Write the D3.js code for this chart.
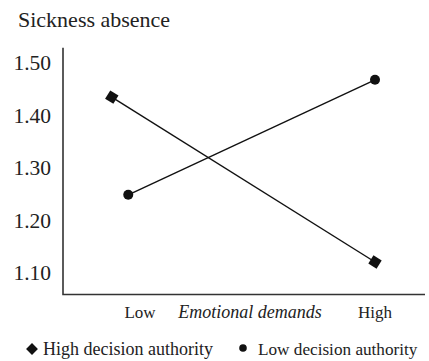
<!DOCTYPE html>
<html>
<head>
<meta charset="utf-8">
<script src="https://cdn.jsdelivr.net/npm/d3@7"></script>
<style>
  body { margin: 0; background: #fff; }
  text { font-family: "Liberation Serif", "Times New Roman", serif; fill: #222; }
</style>
</head>
<body>
<script>
// values
var levels = ["Low", "High"];
var yTicks = [1.10, 1.20, 1.30, 1.40, 1.50];
var highAuthX = [-0.12, 1];      // marker positions along emotional demands (0 = Low, 1 = High)
var highAuth = [1.435, 1.121];
var lowAuthX = [-0.05, 1];
var lowAuth = [1.249, 1.468];
var seriesNames = ["High decision authority", "Low decision authority"];

var width = 429, height = 361;

var svg = d3.select("body").append("svg")
  .attr("width", width)
  .attr("height", height);

var x = d3.scaleLinear().domain([0, 1]).range([140, 375]);
var y = d3.scaleLinear().domain([1.10, 1.50]).range([273, 63]);
var axisX = 63, axisRight = 425;
var yTop = y(1.529), yBottom = y(1.059);

// title
svg.append("text")
  .attr("x", 18).attr("y", 27)
  .style("font-size", "22px")
  .text("Sickness absence");

// y tick labels, no tick marks
var yAxis = d3.axisLeft(y).tickValues(yTicks).tickFormat(d3.format(".2f")).tickSize(0).tickPadding(12);
var gy = svg.append("g").attr("transform", "translate(" + axisX + ",0)").call(yAxis);
gy.select(".domain").remove();
gy.selectAll("text").style("font-size", "21.5px").style("font-family", "Liberation Serif").attr("fill", "#222");

// axis lines
svg.append("path")
  .attr("d", "M" + axisX + "," + yTop + "V" + yBottom + "H" + axisRight)
  .attr("fill", "none")
  .attr("stroke", "#333")
  .attr("stroke-width", 1.6);

// x labels
svg.selectAll(".lvl").data(levels).enter().append("text")
  .attr("x", function(d, i) { return x(i); })
  .attr("y", 318)
  .attr("text-anchor", "middle")
  .style("font-size", "17px")
  .text(function(d) { return d; });

svg.append("text")
  .attr("x", 250).attr("y", 318)
  .attr("text-anchor", "middle")
  .style("font-size", "18px")
  .style("font-style", "italic")
  .text("Emotional demands");

// lines
var line = d3.line().x(function(d) { return x(d[0]); }).y(function(d) { return y(d[1]); });
var highPts = d3.zip(highAuthX, highAuth);
var lowPts = d3.zip(lowAuthX, lowAuth);

svg.append("path").datum(highPts).attr("d", line)
  .attr("fill", "none").attr("stroke", "#111").attr("stroke-width", 1.4);
svg.append("path").datum(lowPts).attr("d", line)
  .attr("fill", "none").attr("stroke", "#111").attr("stroke-width", 1.4);

// markers
var angle = Math.atan2(y(highAuth[1]) - y(highAuth[0]), x(highAuthX[1]) - x(highAuthX[0])) * 180 / Math.PI;
svg.selectAll(".sq").data(highPts).enter().append("path")
  .attr("d", d3.symbol().type(d3.symbolSquare).size(95))
  .attr("transform", function(d) { return "translate(" + x(d[0]) + "," + y(d[1]) + ") rotate(" + angle + ")"; })
  .attr("fill", "#111");

svg.selectAll(".dot").data(lowPts).enter().append("circle")
  .attr("cx", function(d) { return x(d[0]); })
  .attr("cy", function(d) { return y(d[1]); })
  .attr("r", 5)
  .attr("fill", "#111");

// legend
svg.append("path")
  .attr("d", d3.symbol().type(d3.symbolSquare).size(70))
  .attr("transform", "translate(32,349) rotate(45)")
  .attr("fill", "#111");
svg.append("text").attr("x", 43).attr("y", 355)
  .style("font-size", "18px").text(seriesNames[0]);

svg.append("circle").attr("cx", 243).attr("cy", 348).attr("r", 3.8).attr("fill", "#111");
svg.append("text").attr("x", 258).attr("y", 355)
  .style("font-size", "17.2px").text(seriesNames[1]);
</script>
</body>
</html>
